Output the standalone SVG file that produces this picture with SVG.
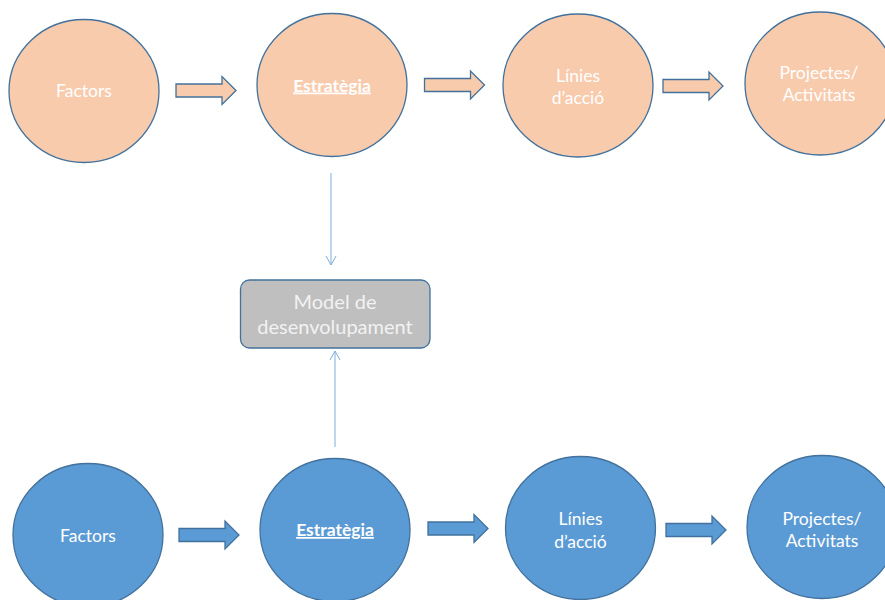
<svg xmlns="http://www.w3.org/2000/svg" width="885" height="600" viewBox="0 0 885 600">
  <style>
    .peach { fill: #F8CBAD; stroke: #41719C; stroke-width: 1.3; }
    .blue { fill: #5B9BD5; stroke: #41719C; stroke-width: 1.3; }
    .lbl { font-family: Lato, "Liberation Sans", sans-serif; font-size: 17.5px; fill: #FFFFFF; text-anchor: middle; }
    .key { font-weight: bold; text-decoration: underline; }
    .box { fill: #BFBFBF; stroke: #41719C; stroke-width: 1.3; }
    .boxlbl { font-family: Lato, "Liberation Sans", sans-serif; font-size: 20px; fill: #F2F2F2; text-anchor: middle; }
    .link { stroke: #7FAEDD; stroke-width: 1; fill: none; }
  </style>
  <defs>
    <marker id="open" viewBox="0 0 12 12" refX="10" refY="6" markerWidth="12" markerHeight="12" markerUnits="userSpaceOnUse" orient="auto">
      <path d="M1,1 L10,6 L1,11" fill="none" stroke="#7FAEDD" stroke-width="1"/>
    </marker>
    <path id="blockArrow" d="M0,-6.5 L46,-6.5 L46,-14 L60,0 L46,14 L46,6.5 L0,6.5 Z"/>
  </defs>

  <!-- top row: peach circles -->
  <g id="top-factors">
    <ellipse class="peach" cx="84" cy="91" rx="75" ry="71.5"/>
    <text class="lbl" x="84" y="97">Factors</text>
  </g>
  <g id="top-estrategia">
    <ellipse class="peach" cx="332" cy="85" rx="75" ry="71.5"/>
    <text class="lbl key" x="332" y="91.5">Estratègia</text>
  </g>
  <g id="top-linies">
    <ellipse class="peach" cx="578" cy="85.5" rx="75" ry="71.5"/>
    <text class="lbl" x="578" y="81.5">Línies</text>
    <text class="lbl" x="578" y="104">d’acció</text>
  </g>
  <g id="top-projectes">
    <ellipse class="peach" cx="820" cy="83.5" rx="75" ry="71.5"/>
    <text class="lbl" x="819" y="78.5">Projectes/</text>
    <text class="lbl" x="819" y="101">Activitats</text>
  </g>

  <!-- central model box -->
  <g id="model">
    <rect class="box" x="240.5" y="280" width="189.5" height="68" rx="9" ry="9"/>
    <text class="boxlbl" x="335" y="309">Model de</text>
    <text class="boxlbl" x="335" y="334">desenvolupament</text>
  </g>

  <!-- bottom row: blue circles -->
  <g id="bottom-factors">
    <ellipse class="blue" cx="88" cy="535" rx="75" ry="71.5"/>
    <text class="lbl" x="88" y="541.5">Factors</text>
  </g>
  <g id="bottom-estrategia">
    <ellipse class="blue" cx="335" cy="530" rx="75" ry="71.5"/>
    <text class="lbl key" x="335" y="536">Estratègia</text>
  </g>
  <g id="bottom-linies">
    <ellipse class="blue" cx="580.5" cy="528" rx="75" ry="71.5"/>
    <text class="lbl" x="580.5" y="525">Línies</text>
    <text class="lbl" x="580.5" y="547.5">d’acció</text>
  </g>
  <g id="bottom-projectes">
    <ellipse class="blue" cx="822" cy="527" rx="75" ry="71.5"/>
    <text class="lbl" x="822" y="524.5">Projectes/</text>
    <text class="lbl" x="822" y="547">Activitats</text>
  </g>

  <!-- connectors -->
  <g id="connectors">
    <use href="#blockArrow" class="peach" x="176" y="90.5"/>
    <use href="#blockArrow" class="peach" x="424.5" y="85"/>
    <use href="#blockArrow" class="peach" x="663" y="86"/>
    <use href="#blockArrow" class="blue" x="179" y="535"/>
    <use href="#blockArrow" class="blue" x="428" y="528.5"/>
    <use href="#blockArrow" class="blue" x="666" y="530"/>
    <line class="link" x1="331" y1="173" x2="331" y2="265" marker-end="url(#open)"/>
    <line class="link" x1="335" y1="447" x2="335" y2="351" marker-end="url(#open)"/>
  </g>
</svg>
